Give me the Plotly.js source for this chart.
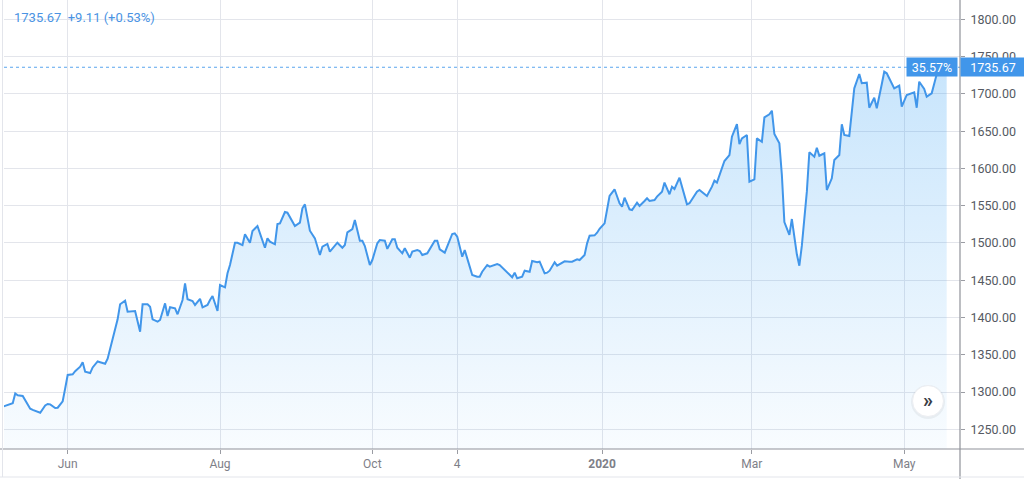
<!DOCTYPE html>
<html>
<head>
<meta charset="utf-8">
<script src="https://cdn.plot.ly/plotly-3.0.1.min.js"></script>
<style>
  html, body { margin: 0; padding: 0; background: #ffffff; }
  #chart { width: 1024px; height: 479px; }
</style>
</head>
<body>
<div id="chart"></div>
<script>
const dates = [
  "2019-05-06","2019-05-10","2019-05-11","2019-05-12","2019-05-14","2019-05-17","2019-05-18","2019-05-21","2019-05-23","2019-05-24",
  "2019-05-25","2019-05-27","2019-05-28","2019-05-30","2019-05-31","2019-06-01","2019-06-03","2019-06-04","2019-06-06","2019-06-07",
  "2019-06-08","2019-06-10","2019-06-11","2019-06-13","2019-06-14","2019-06-16","2019-06-17","2019-06-18","2019-06-20","2019-06-21",
  "2019-06-22","2019-06-24","2019-06-25","2019-06-27","2019-06-28","2019-06-30","2019-07-01","2019-07-03","2019-07-04","2019-07-05",
  "2019-07-07","2019-07-08","2019-07-10","2019-07-11","2019-07-12","2019-07-14","2019-07-15","2019-07-17","2019-07-18","2019-07-19",
  "2019-07-21","2019-07-22","2019-07-24","2019-07-25","2019-07-27","2019-07-28","2019-07-29","2019-07-31","2019-08-01","2019-08-03",
  "2019-08-04","2019-08-05","2019-08-07","2019-08-08","2019-08-10","2019-08-11","2019-08-13","2019-08-14","2019-08-16","2019-08-17",
  "2019-08-19","2019-08-20","2019-08-21","2019-08-23","2019-08-24","2019-08-25","2019-08-27","2019-08-28","2019-08-30","2019-08-31",
  "2019-09-02","2019-09-03","2019-09-04","2019-09-06","2019-09-08","2019-09-09","2019-09-10","2019-09-11","2019-09-13","2019-09-14",
  "2019-09-16","2019-09-17","2019-09-19","2019-09-20","2019-09-21","2019-09-23","2019-09-24","2019-09-26","2019-09-27","2019-09-28",
  "2019-09-30","2019-10-01","2019-10-03","2019-10-04","2019-10-06","2019-10-07","2019-10-09","2019-10-10","2019-10-11","2019-10-13",
  "2019-10-14","2019-10-16","2019-10-17","2019-10-19","2019-10-20","2019-10-21","2019-10-23","2019-10-24","2019-10-26","2019-10-27",
  "2019-10-28","2019-10-30","2019-10-31","2019-11-02","2019-11-03","2019-11-04","2019-11-06","2019-11-07","2019-11-09","2019-11-10",
  "2019-11-12","2019-11-13","2019-11-14","2019-11-16","2019-11-17","2019-11-19","2019-11-20","2019-11-21","2019-11-23","2019-11-24",
  "2019-11-26","2019-11-27","2019-11-28","2019-11-30","2019-12-01","2019-12-03","2019-12-04","2019-12-06","2019-12-07","2019-12-09",
  "2019-12-10","2019-12-11","2019-12-13","2019-12-14","2019-12-16","2019-12-17","2019-12-19","2019-12-20","2019-12-22","2019-12-23",
  "2019-12-25","2019-12-26","2019-12-27","2019-12-29","2019-12-30","2019-12-31","2020-01-02","2020-01-03","2020-01-04","2020-01-06",
  "2020-01-08","2020-01-09","2020-01-10","2020-01-12","2020-01-13","2020-01-15","2020-01-16","2020-01-18","2020-01-19","2020-01-20",
  "2020-01-22","2020-01-23","2020-01-25","2020-01-26","2020-01-28","2020-01-29","2020-01-30","2020-02-01","2020-02-02","2020-02-04",
  "2020-02-05","2020-02-07","2020-02-08","2020-02-09","2020-02-11","2020-02-12","2020-02-14","2020-02-15","2020-02-16","2020-02-18",
  "2020-02-19","2020-02-21","2020-02-22","2020-02-24","2020-02-25","2020-02-26","2020-02-28","2020-02-29","2020-03-02","2020-03-03",
  "2020-03-05","2020-03-06","2020-03-08","2020-03-09","2020-03-10","2020-03-12","2020-03-13","2020-03-14","2020-03-16","2020-03-17",
  "2020-03-19","2020-03-20","2020-03-21","2020-03-23","2020-03-24","2020-03-26","2020-03-27","2020-03-28","2020-03-30","2020-03-31",
  "2020-04-02","2020-04-03","2020-04-05","2020-04-06","2020-04-07","2020-04-09","2020-04-10","2020-04-11","2020-04-13","2020-04-14",
  "2020-04-16","2020-04-17","2020-04-19","2020-04-20","2020-04-22","2020-04-23","2020-04-24","2020-04-26","2020-04-27","2020-04-29",
  "2020-04-30","2020-05-02","2020-05-03","2020-05-05","2020-05-06","2020-05-07","2020-05-09","2020-05-10","2020-05-12","2020-05-13",
  "2020-05-14","2020-05-16","2020-05-18"
];
const prices = [
  1280.3,1285,1298,1295.6,1294.7,1277.7,1276,1272.3,1282,1284,
  1283.5,1278.6,1279,1287.6,1305,1322.9,1323.8,1328,1334,1340,
  1327.3,1325.5,1333,1341,1340,1338,1344.7,1358,1386.9,1397.6,
  1417.7,1422.6,1407.8,1408.7,1408.7,1381,1417.7,1417.7,1414.5,1397.6,
  1394.4,1396.7,1419,1402,1413.7,1412.3,1404.3,1423.5,1445.8,1424.4,
  1422.1,1416.8,1425,1413.7,1416.8,1423.5,1428.8,1408.7,1443.6,1440.5,
  1459.3,1470.4,1500.3,1500.3,1497.2,1511.6,1500.3,1516,1522.7,1512.9,
  1493.6,1506.2,1501.7,1498.2,1525.4,1526.3,1541.5,1540.6,1527.7,1522.7,
  1527.2,1546.5,1551.8,1516.4,1506.2,1495.9,1483.8,1495,1498.6,1488.3,
  1497.2,1500.3,1493.6,1497.2,1514.3,1518.7,1530.8,1503,1503,1495.9,
  1470.4,1477.1,1499.5,1504,1503,1492,1504.9,1504.9,1493.6,1486.1,
  1492.8,1480.2,1488.3,1490.5,1489.2,1483.8,1486.1,1491.5,1503,1503,
  1491.5,1487,1495,1512,1512.9,1508.4,1481.6,1490.5,1468.2,1457,
  1454.7,1454.7,1461.4,1470.4,1468.2,1470.4,1471.7,1470.4,1463.7,1461.4,
  1453.9,1460.1,1452.6,1454.7,1462.8,1461.4,1475.8,1474,1474.9,1459.3,
  1460.1,1462.8,1474,1469.5,1474,1475.4,1474.9,1474.9,1478.1,1477.1,
  1483.8,1499.5,1509.8,1510.2,1513.7,1519,1526.3,1546.5,1563,1572,
  1553.2,1548.6,1560.7,1545.1,1544.2,1554,1549.6,1556.3,1559.9,1556.3,
  1557.6,1562.1,1568.8,1580.9,1565.3,1575.5,1572.4,1587.6,1574.6,1551.8,
  1553.2,1563,1568.8,1571,1565.3,1563,1575.5,1583.5,1580.9,1601.4,
  1609.9,1617.9,1642.5,1659.5,1632.7,1640.3,1644.8,1582.2,1585.4,1640.3,
  1635.8,1668.5,1672.5,1677.4,1646.1,1633.6,1591.1,1528,1510.7,1532.1,
  1484.8,1469.5,1496.4,1568.8,1621.6,1615.7,1627.8,1617,1620.2,1571,
  1586.7,1611.3,1617.9,1659.1,1644.8,1643.5,1680.6,1707.4,1726.6,1714.2,
  1715,1681.4,1694.8,1680.6,1712.8,1729.7,1727.6,1714.2,1707.4,1711,
  1682.8,1698.5,1699.4,1702.1,1681.4,1716.3,1706.5,1696.2,1700.7,1714.2,
  1726.2,1731,1735.67
];
const xTickVals = ["2019-06-01","2019-08-01","2019-10-01","2019-11-04","2020-01-01","2020-03-01","2020-05-01"];
const xTickText = ["Jun","Aug","Oct","4","<b>2020</b>","Mar","May"];
const yTickVals = [1250,1300,1350,1400,1450,1500,1550,1600,1650,1700,1750,1800];
const headerText = "1735.67  +9.11 (+0.53%)";
const pctLabel = "35.57%";

const lastPrice = prices[prices.length - 1];
const BLUE = "#4196ea";
const W = 956, H = 449;

const trace = {
  type: "scatter",
  mode: "lines",
  x: dates,
  y: prices,
  line: { color: BLUE, width: 2 },
  fill: "tozeroy",
  fillgradient: {
    type: "vertical",
    start: 1223.6,
    stop: 1740,
    colorscale: [[0, "rgba(33,150,243,0.03)"], [1, "rgba(33,150,243,0.25)"]]
  },
  hoverinfo: "skip"
};

const layout = {
  width: 1024,
  height: 479,
  margin: { l: 4, r: 64, t: 0, b: 30 },
  paper_bgcolor: "#ffffff",
  plot_bgcolor: "#ffffff",
  showlegend: false,
  font: { family: "Roboto, 'Open Sans', sans-serif", size: 12, color: "#555a63" },
  xaxis: {
    type: "date",
    range: ["2019-05-06 12:00", "2020-05-23 08:00"],
    tickmode: "array",
    tickvals: xTickVals,
    ticktext: xTickText,
    showgrid: true,
    gridcolor: "#e3e5eb",
    gridwidth: 1,
    showline: false,
    zeroline: false,
    ticks: "outside",
    ticklen: 4,
    tickcolor: "#9a9ca3",
    tickfont: { size: 12, color: "#7e8088" },
    fixedrange: true
  },
  yaxis: {
    side: "right",
    range: [1223.6, 1825.9],
    tickmode: "array",
    tickvals: yTickVals,
    tickformat: ".2f",
    showgrid: true,
    gridcolor: "#e3e5eb",
    gridwidth: 1,
    showline: false,
    zeroline: false,
    ticks: "outside",
    ticklen: 4,
    tickcolor: "#9a9ca3",
    ticklabelstandoff: 3,
    tickfont: { size: 12.5, color: "#555a63" },
    fixedrange: true
  },
  shapes: [
    { type: "line", xref: "paper", yref: "y", x0: 0, x1: 1, y0: lastPrice, y1: lastPrice,
      line: { color: "#5aa5ee", width: 1, dash: "dot" }, layer: "above" },
    { type: "line", xref: "paper", yref: "paper", x0: -4 / W, x1: 1 + 64 / W, y0: 0, y1: 0,
      line: { color: "#8f9299", width: 1.2 } },
    { type: "line", xref: "paper", yref: "paper", x0: 1, x1: 1, y0: -30 / H, y1: 1,
      line: { color: "#8f9299", width: 1.2 } },
    { type: "line", xref: "paper", yref: "paper", x0: -1.5 / W, x1: -1.5 / W, y0: -28 / H, y1: 1,
      line: { color: "#e3e5eb", width: 1 } },
    { type: "line", xref: "paper", yref: "paper", x0: -4 / W, x1: 1 + 64 / W, y0: -28 / H, y1: -28 / H,
      line: { color: "#e3e5eb", width: 1 } },
    { type: "circle", xref: "paper", yref: "paper", xsizemode: "pixel", ysizemode: "pixel",
      xanchor: (928 - 4) / W, yanchor: (449 - 402) / H, x0: -17, x1: 17, y0: -17, y1: 17,
      fillcolor: "rgba(0,0,0,0.05)", line: { width: 0 } },
    { type: "circle", xref: "paper", yref: "paper", xsizemode: "pixel", ysizemode: "pixel",
      xanchor: (928 - 4) / W, yanchor: (449 - 401) / H, x0: -15.5, x1: 15.5, y0: -15.5, y1: 15.5,
      fillcolor: "#ffffff", line: { color: "#eceef2", width: 1 } }
  ],
  annotations: [
    { xref: "paper", yref: "paper", x: 0, y: 1, xanchor: "left", yanchor: "middle",
      xshift: 8, yshift: -17, text: headerText, showarrow: false,
      font: { size: 13, color: "#4a93e3" } },
    { xref: "paper", yref: "y", x: 1, y: lastPrice, xanchor: "left", yanchor: "middle",
      text: lastPrice.toFixed(2), showarrow: false, bgcolor: BLUE, width: 60, height: 14,
      borderpad: 2, font: { size: 12.5, color: "#ffffff" } },
    { xref: "paper", yref: "y", x: 1, y: lastPrice, xanchor: "right", yanchor: "middle",
      xshift: -2, text: pctLabel, showarrow: false, bgcolor: BLUE, width: 46, height: 14,
      borderpad: 2, font: { size: 12.5, color: "#ffffff" } },
    { xref: "paper", yref: "paper", x: (928 - 4) / W, y: (449 - 401) / H, xanchor: "center", yanchor: "middle",
      text: "<b>»</b>", showarrow: false, font: { size: 20, color: "#3a3d45" }, yshift: 1 }
  ]
};

Plotly.newPlot("chart", [trace], layout, { displayModeBar: false, staticPlot: true });
</script>
</body>
</html>
